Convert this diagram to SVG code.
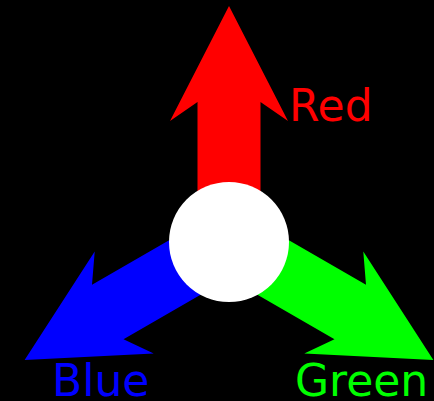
<svg xmlns="http://www.w3.org/2000/svg" width="434" height="401" viewBox="0 0 434 401">
<style>
text{font-family:"DejaVu Sans",sans-serif;font-size:44px}
</style>
<defs>
<path id="arr" d="M-31.5,0 L-31.5,-140 L-59,-121 L0,-236 L59,-121 L31.5,-140 L31.5,0 Z"/>
</defs>
<rect width="434" height="401" fill="#000"/>
<g id="connectors" transform="translate(229,242)">
<use href="#arr" fill="#ff0000"/>
<use href="#arr" fill="#00ff00" transform="rotate(120)"/>
<use href="#arr" fill="#0000ff" transform="rotate(-120)"/>
</g>
<g id="center"><circle cx="229" cy="242" r="60" fill="#fff"/></g>
<g id="red"><text x="289" y="121" fill="#ff0000">Red</text></g>
<g id="blue"><text x="52" y="396" fill="#0000ff">Blue</text></g>
<g id="green"><text x="295" y="396" fill="#00ff00">Green</text></g>
</svg>
